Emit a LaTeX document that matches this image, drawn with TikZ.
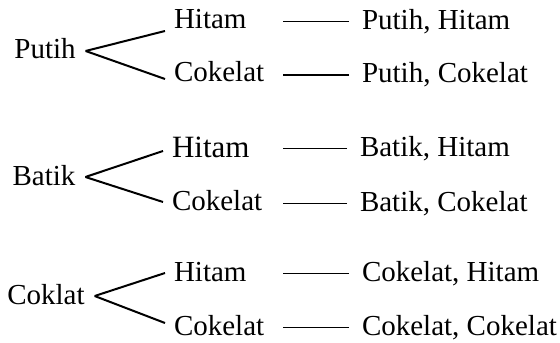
\documentclass[tikz,border=0pt]{standalone}
\usepackage{fontspec}
\setmainfont{Liberation Serif}
\begin{document}
\begin{tikzpicture}[
  x=0.5pt, y=-0.5pt,
  font=\fontsize{14.5}{17}\selectfont,
  every node/.style={text height=0.8em, text depth=0pt, outer sep=0pt},
  shirt/.style={inner xsep=5pt, inner ysep=0pt},
  tone/.style={anchor=west, inner xsep=4.5pt, inner ysep=0pt},
  combo/.style={anchor=west, inner xsep=6.5pt, inner ysep=0pt},
  branch/.style={draw, line width=1pt},
  link/.style={draw, line width=0.5pt}
]
\useasboundingbox (0,0) rectangle (560,342);
\coordinate (bar) at (283,0);

% row: putih
\node[shirt] (putih) at (45,51) {Putih};
\node[tone] (putihH) at (165,21) {Hitam};
\node[tone] (putihC) at (165,74) {Cokelat};
\node[combo] (resPH) at (349,22) {Putih, Hitam};
\node[combo] (resPC) at (349,75) {Putih, Cokelat};

% row: batik
\node[shirt] (batik) at (44,177) {Batik};
\node[tone, font=\fontsize{15.5}{18}\selectfont] (batikH) at (163,149) {Hitam};
\node[tone] (batikC) at (163,202) {Cokelat};
\node[combo] (resBH) at (347,148) {Batik, Hitam};
\node[combo] (resBC) at (347,203) {Batik, Cokelat};

% row: coklat
\node[shirt] (coklat) at (46,296) {Coklat};
\node[tone] (coklatH) at (165,273) {Hitam};
\node[tone] (coklatC) at (165,327) {Cokelat};
\node[combo] (resCH) at (349,273) {Cokelat, Hitam};
\node[combo] (resCC) at (349,327) {Cokelat, Cokelat};

% branches from each shirt colour
\draw[branch] (putih.east) -- ([yshift=-5pt]putihH.west);
\draw[branch] (putih.east) -- ([yshift=-2.5pt]putihC.west);
\draw[branch] (batik.east) -- ([yshift=-1pt]batikH.west);
\draw[branch] (batik.east) -- (batikC.west);
\draw[branch] (coklat.east) -- (coklatH.west);
\draw[branch] (coklat.east) -- ([yshift=2pt]coklatC.west);

% links to the outcomes
\foreach \n in {resPH,resPC,resBH,resBC,resCH,resCC}
  \draw[link] (\n.west) -- (\n.west -| bar);
\end{tikzpicture}
\end{document}
